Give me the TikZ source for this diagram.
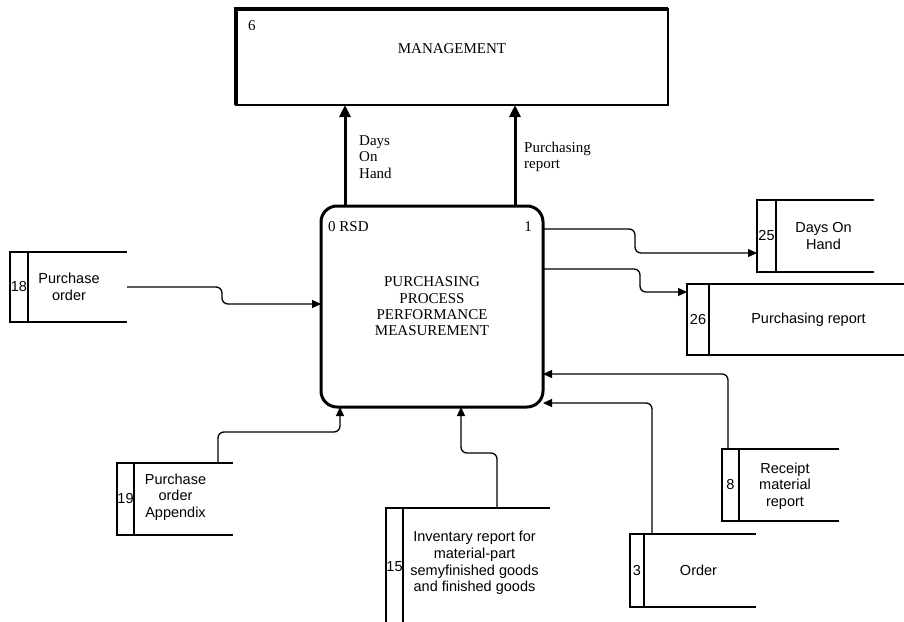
\documentclass[tikz,border=0pt]{standalone}
\usepackage{fontspec}
\setmainfont{Liberation Serif}
\setsansfont{Liberation Sans}
\usetikzlibrary{arrows.meta}

\tikzset{
	flow/.style={line width=1.3pt, rounded corners=6pt, -{Triangle[length=9pt,width=8pt]}},
	bigflow/.style={line width=3pt, -{Triangle[length=12pt,width=11pt]}},
	storeline/.style={line width=2.5pt},
	store/.style={inner sep=0pt, outer sep=0pt},
	txt/.style={font=\fontsize{14.5}{16.7}\selectfont\sffamily, align=center, inner sep=0pt},
	rm/.style={font=\fontsize{15}{16.3}\selectfont, inner sep=0pt}
}

\begin{document}
\begin{tikzpicture}[x=1pt,y=-1pt]
	\useasboundingbox (0,0) rectangle (904,621);
	\node[store, draw, line width=1.5pt, minimum width=432pt, minimum height=96pt] (mgmt) at (452,57) {};
	\draw[line width=4pt] (mgmt.south west) -- (mgmt.north west) -- (mgmt.north east);
	\node[rm, anchor=west] (mgmt-id) at (248,26) {6};
	\node[rm] (mgmt-txt) at (452,49) {MANAGEMENT};
	\node[rm, draw, line width=3pt, rounded corners=16pt, outer sep=0pt, align=center, minimum width=222pt, minimum height=201pt] (proc) at (432,306.5) {PURCHASING\\PROCESS\\PERFORMANCE\\MEASUREMENT};
	\node[rm, anchor=west] (proc-id) at (328,227) {0 RSD};
	\node[rm, anchor=east] (proc-no) at (532,227) {1};
	\node[store, minimum width=117pt, minimum height=70pt] (s18) at (68.5,287) {};
	\node[store, txt, minimum width=18pt, minimum height=70pt, anchor=west] (s18-id) at (s18.west) {18};
	\node[txt] (s18-txt) at (69,287) {Purchase\\order};
	\node[store, minimum width=116pt, minimum height=72pt] (s19) at (175,499) {};
	\node[store, txt, minimum width=17pt, minimum height=72pt, anchor=west] (s19-id) at (s19.west) {19};
	\node[txt] (s19-txt) at (175.5,497) {Purchase\\order\\Appendix};
	\node[store, minimum width=164pt, minimum height=118pt] (s15) at (468,567) {};
	\node[store, txt, minimum width=17pt, minimum height=118pt, anchor=west] (s15-id) at (s15.west) {15};
	\node[txt] (s15-txt) at (474.5,563) {Inventary report for\\material-part\\semyfinished goods\\and finished goods};
	\node[store, minimum width=126pt, minimum height=73pt] (s3) at (693,570.5) {};
	\node[store, txt, minimum width=14pt, minimum height=73pt, anchor=west] (s3-id) at (s3.west) {3};
	\node[txt] (s3-txt) at (698.5,570.5) {Order};
	\node[store, minimum width=117pt, minimum height=72pt] (s8) at (780.5,485) {};
	\node[store, txt, minimum width=17pt, minimum height=72pt, anchor=west] (s8-id) at (s8.west) {8};
	\node[txt] (s8-txt) at (785,486) {Receipt\\material\\report};
	\node[store, minimum width=117pt, minimum height=72pt] (s25) at (815.5,236) {};
	\node[store, txt, minimum width=19pt, minimum height=72pt, anchor=west] (s25-id) at (s25.west) {25};
	\node[txt] (s25-txt) at (823.5,236) {Days On\\Hand};
	\node[store, minimum width=228pt, minimum height=71pt] (s26) at (801,319.5) {};
	\node[store, txt, minimum width=22pt, minimum height=71pt, anchor=west] (s26-id) at (s26.west) {26};
	\node[txt] (s26-txt) at (808.5,320) {Purchasing report};
	\foreach \s in {s18,s19,s15,s3,s8,s25,s26}{
		\draw[storeline] (\s.north east) -- (\s.north west) -- (\s.south west) -- (\s.south east);
		\draw[storeline] (\s-id.north east) -- (\s-id.south east);
	}
	\coordinate (c1) at (345,0);
	\coordinate (c2) at (515,0);
	\draw[bigflow] (proc.north -| c1) -- (mgmt.south -| c1);
	\draw[bigflow] (proc.north -| c2) -- (mgmt.south -| c2);
	\node[rm, anchor=west, align=left] (lbl-doh) at (359,157) {Days\\On\\Hand};
	\node[rm, anchor=west, align=left] (lbl-pr) at (524,157) {Purchasing\\report};
	\draw[flow] ([yshift=77.5]proc.east) -- ++(92,0) |- ([yshift=-17]s25.west);
	\draw[flow] ([yshift=37.5]proc.east) -- ++(97,0) |- ([yshift=27.5]s26.west);
	\draw[flow] (s18.east) -- ++(95,0) |- ([yshift=2.5]proc.west);
	\draw[flow] ([xshift=43]s19.north) |- ([xshift=-92,yshift=-25]proc.south) -- ([xshift=-92]proc.south);
	\draw[flow] ([xshift=29]s15.north) |- ([xshift=29,yshift=-46]proc.south) -- ([xshift=29]proc.south);
	\draw[flow] ([xshift=-41]s3.north) |- ([yshift=-96.5]proc.east);
	\draw[flow] ([xshift=-52.5]s8.north) |- ([yshift=-67.5]proc.east);
\end{tikzpicture}
\end{document}
